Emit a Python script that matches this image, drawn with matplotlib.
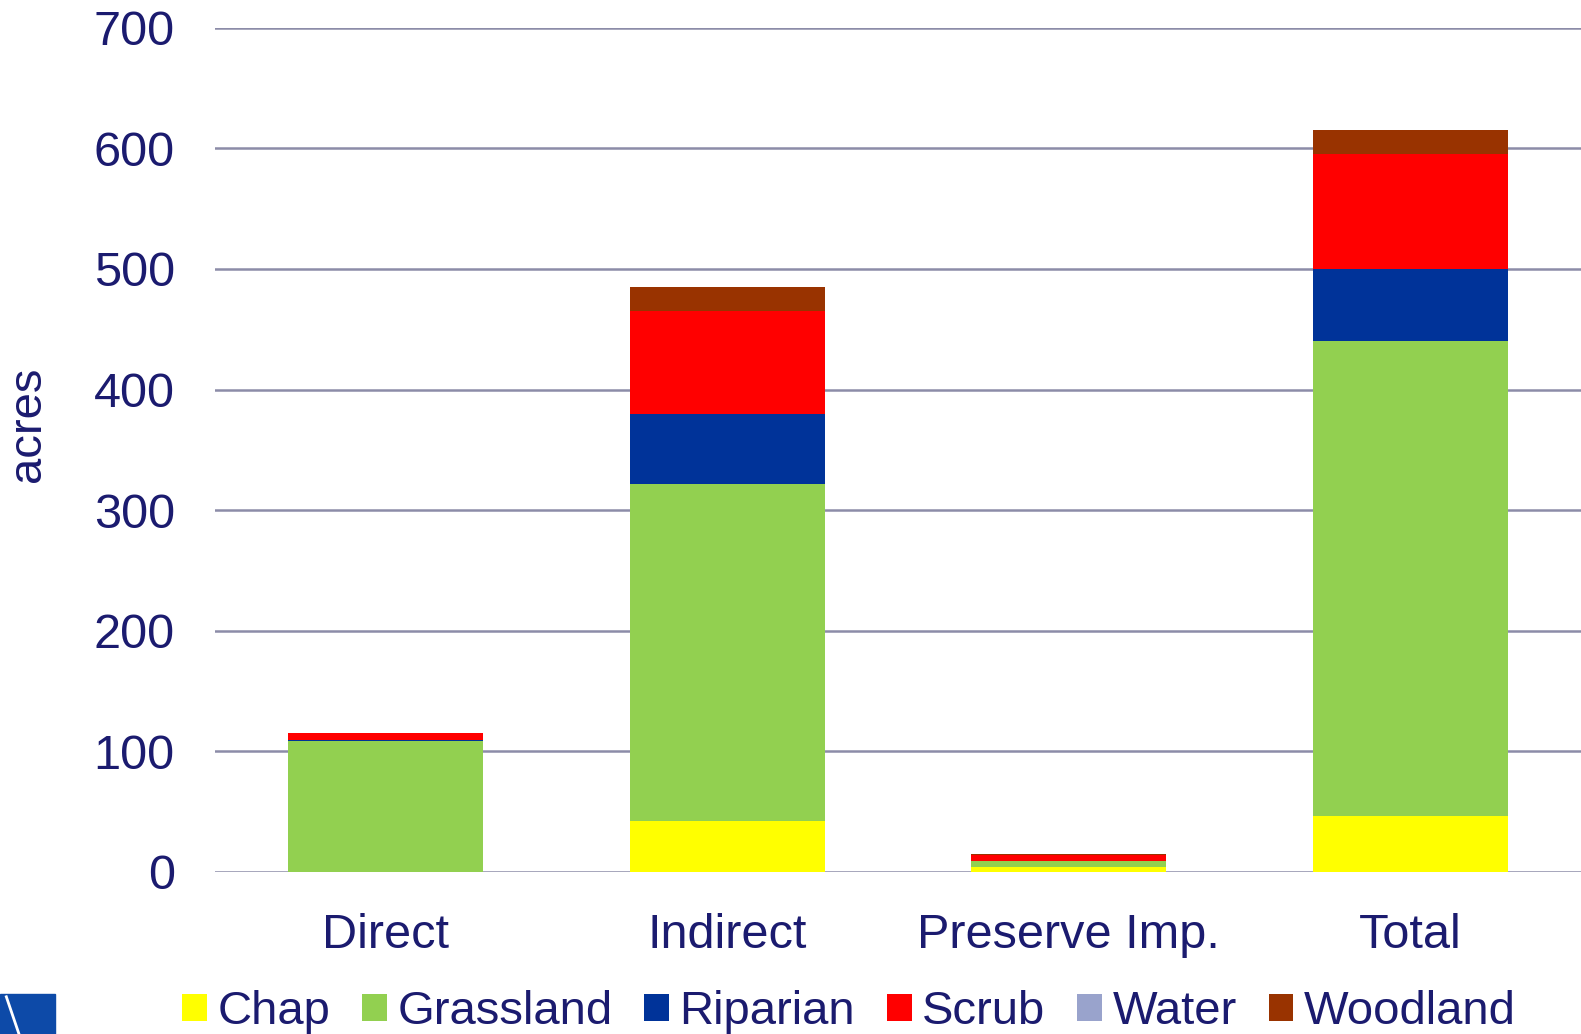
import matplotlib
matplotlib.use("Agg")
import matplotlib.pyplot as plt
import numpy as np

plt.rcParams['font.family'] = ['Liberation Sans', 'DejaVu Sans']

# data (acres)
categories = ["Direct", "Indirect", "Preserve Imp.", "Total"]
series = ["Chap", "Grassland", "Riparian", "Scrub", "Water", "Woodland"]
chap = [0, 42, 3.5, 46]
grassland = [108, 280, 5, 394]
riparian = [1, 58, 0.5, 60]
scrub = [6, 85, 4.5, 95]
water = [0, 0, 0, 0]
woodland = [0, 20, 1.3, 20]

colors = ["#ffff00", "#92d050", "#003399", "#ff0000", "#99a3cc", "#993300"]
navy = "#1b1b6f"

fig = plt.figure(figsize=(15.81, 10.34), dpi=100)
ax = fig.add_axes([0.136, 0.157, 0.864, 0.816])

x = np.arange(len(categories))
bottom = np.zeros(len(categories))
for name, vals, c in zip(series, [chap, grassland, riparian, scrub, water, woodland], colors):
    ax.bar(x, vals, width=0.57, bottom=bottom, color=c, label=name, zorder=3)
    bottom += np.array(vals)

ax.set_ylim(0, 700)
ax.set_xlim(-0.5, 3.5)
ax.set_yticks(range(0, 701, 100))
ax.yaxis.grid(True, color="#8c8ca8", lw=1.8, zorder=0)
ax.set_axisbelow(True)
for s in ax.spines.values():
    s.set_visible(False)
ax.tick_params(length=0, labelsize=35, colors=navy)
ax.tick_params(axis='y', pad=29)
ax.tick_params(axis='x', pad=30)
ax.set_xticks(x)
ax.set_xticklabels(categories)
ax.set_ylabel("acres", fontsize=34, color=navy)
ax.yaxis.set_label_coords(-0.121, 0.53)

fig.legend(loc='center', bbox_to_anchor=(0.537, 0.021), ncol=6, frameon=False,
           fontsize=34, labelcolor=navy, handlelength=0.52, handleheight=0.52,
           handletextpad=0.22, columnspacing=0.68)

# corner logo fragment
fig.patches.append(plt.Rectangle((0, 0), 0.035, 0.039, transform=fig.transFigure,
                                 color="#0d4aa8", zorder=5))
fig.lines.append(plt.Line2D([0.004, 0.012], [0.036, 0.0], transform=fig.transFigure,
                            color="white", lw=2, zorder=6))

fig.savefig("out.png", dpi=100)
